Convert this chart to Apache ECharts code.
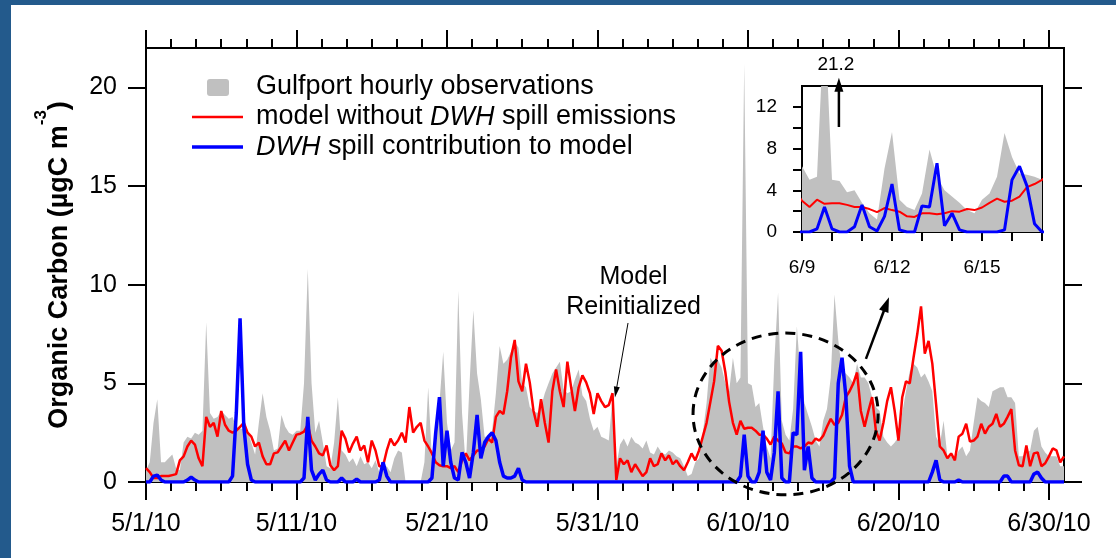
<!DOCTYPE html>
<html>
<head>
<meta charset="utf-8">
<script src="https://cdn.jsdelivr.net/npm/echarts@6/dist/echarts.min.js"></script>
<style>
  html, body { margin: 0; padding: 0; background: #fff; }
  #chart { width: 1116px; height: 558px; }
</style>
</head>
<body>
<div id="chart"></div>
<script>
// Organic carbon at Gulfport, 1 May – 1 July 2010 (µgC m-3), one value every 6 h.
const startYear = 2010, startMonth = 4, startDay = 1;   // 1 May 2010
const stepDays = 0.25;

// Gulfport observations
const observed = [
  0.6,1.0,3.0,4.2, 1.0,1.0,1.2,1.4,
  0.7,0.6,2.0,2.3, 2.2,2.5,2.4,2.6,
  8.1,3.5,3.2,3.3, 3.6,3.4,3.2,3.3,
  2.8,2.7,2.7,2.6, 2.0,1.4,3.0,4.5,
  3.3,2.6,1.6,1.7, 3.4,2.8,2.5,2.4,
  2.6,2.6,5.0,10.8, 5.0,2.5,3.1,2.0,
  0.8,0.7,2.0,4.3, 1.6,1.4,1.0,1.2,
  0.8,1.3,0.9,1.0, 0.7,1.1,0.5,0.6,
  0.8,0.5,1.2,1.6, 1.5,0,0,0,
  0,0,1.0,4.8, 1.2,2.5,4.0,6.6,
  3.0,1.6,2.0,9.7, 3.5,0.8,5.0,8.7,
  5.5,4.2,2.3,2.3, 2.6,4.5,6.9,6.0,
  6.2,6.6,7.1,6.8, 5.0,4.8,3.8,3.6,
  3.5,3.8,4.5,5.0, 5.5,5.8,6.1,4.7,
  4.5,4.6,5.2,5.7, 4.4,4.1,3.2,2.6,
  2.8,2.3,2.2,2.1, 4.3,0.8,1.9,2.2,
  1.8,2.3,2.0,1.9, 1.7,2.1,1.5,1.4,
  1.8,1.5,1.4,1.6, 1.5,1.3,1.2,0.8,
  0.3,0.4,1.0,1.2, 2.5,4.0,6.3,6.0,
  6.2,5.8,5.0,4.6, 6.3,5.0,5.3,21.2,
  5.0,4.9,3.8,4.0, 2.8,1.8,1.2,6.1,
  9.6,3.1,2.4,2.1, 3.7,7.9,5.3,4.0,
  3.4,2.8,2.1,1.8, 3.1,3.7,5.3,9.5,
  7.2,5.6,5.5,5.3, 5.0,6.0,5.3,5.3,
  5.0,4.3,3.8,3.6, 2.3,2.0,1.8,2.0,
  2.3,3.5,4.6,5.6, 6.0,5.8,5.3,5.5,
  5.1,4.6,2.3,1.9, 3.1,1.3,1.3,1.1,
  1.6,1.8,1.3,1.6, 3.0,4.3,4.1,4.0,
  3.8,4.6,4.7,4.8, 4.8,4.3,4.3,4.0,
  1.3,1.3,1.5,1.6, 2.6,2.8,1.8,1.5,
  1.3,1.3,1.3,0.8, 0.8
];

// Model run without DWH spill emissions
const modelNoSpill = [
  0.7,0.5,0.2,0.2, 0.3,0.3,0.3,0.35,
  0.4,1.1,1.3,1.8, 2.1,1.9,1.2,0.8,
  3.3,2.8,3.0,2.3, 3.6,2.9,2.6,2.5,
  2.6,2.8,3.0,2.5, 2.3,1.8,2.0,1.3,
  0.9,0.9,1.45,1.5, 1.8,2.1,1.6,2.0,
  2.4,2.45,2.55,2.9, 2.1,1.8,1.45,1.35,
  1.85,0.85,0.6,0.8, 2.6,2.2,1.5,1.95,
  2.3,1.6,1.85,1.0, 2.1,1.6,0.8,0.8,
  1.6,2.2,1.85,2.1, 2.5,2.0,3.8,2.5,
  2.8,3.0,2.1,1.8, 1.45,1.0,0.85,0.8,
  0.8,0.7,0.8,0.5, 1.1,1.45,1.1,1.35,
  1.6,1.6,1.8,2.2, 2.0,3.3,3.6,3.45,
  4.6,6.3,7.2,5.1, 4.6,6.0,5.05,3.6,
  2.8,4.2,3.0,2.0, 4.6,5.7,4.6,3.8,
  6.1,4.8,3.6,4.8, 5.4,5.05,4.5,3.45,
  4.5,4.1,3.8,3.9, 4.5,0.1,1.2,0.9,
  1.1,0.5,0.9,0.6, 0.3,0.5,1.2,0.8,
  0.9,1.45,1.1,1.35, 0.9,1.1,0.8,0.6,
  1.0,1.45,1.1,1.6, 2.3,3.0,4.05,5.1,
  6.9,6.65,5.55,4.05, 3.0,2.4,3.1,2.7,
  2.75,2.75,2.6,2.4, 2.4,2.2,1.9,2.3,
  2.1,1.95,1.5,1.45, 1.8,1.8,1.7,1.8,
  2.0,1.95,2.2,2.1, 2.35,2.8,3.2,2.9,
  3.0,3.4,4.3,4.6, 5.0,5.55,3.6,2.8,
  3.6,4.3,2.6,2.1, 3.0,4.1,4.8,3.6,
  2.1,4.3,5.1,5.0, 6.3,7.5,8.9,6.5,
  7.15,6.0,3.95,1.8, 1.6,1.2,1.45,1.1,
  2.3,2.45,2.95,2.05, 2.1,2.3,2.95,2.45,
  2.8,2.95,3.45,2.8, 2.95,3.3,3.7,1.6,
  0.85,0.8,1.85,0.8, 1.45,1.5,0.8,0.95,
  1.3,1.7,1.6,1.0, 1.3
];

// DWH spill contribution to the model
const spillContribution = [
  0,0,0.3,0.35, 0.1,0,0,0,
  0,0,0,0.1, 0.25,0.1,0,0,
  0,0,0,0, 0,0,0,0.3,
  3.5,8.3,2.8,0.9, 0.1,0,0,0,
  0,0,0,0, 0,0,0,0,
  0,0,0.2,3.3, 0.6,0.1,0.4,0.6,
  0.1,0,0,0, 0.2,0,0,0,
  0.15,0,0,0, 0,0,0.1,1.0,
  0.3,0,0,0, 0,0,0,0,
  0,0,0,0, 0.2,2.5,4.3,0.8,
  2.6,1.0,0.2,0.1, 1.5,1.0,0.2,1.5,
  3.4,1.2,2.0,2.3, 2.5,2.1,1.0,0.3,
  0.2,0.2,0.3,0.7, 0.1,0,0,0,
  0,0,0,0, 0,0,0,0,
  0,0,0,0, 0,0,0,0,
  0,0,0,0, 0,0,0,0,
  0,0,0,0, 0,0,0,0,
  0,0,0,0, 0,0,0,0,
  0,0,0,0, 0,0,0,0,
  0,0,0,0, 0,0,0.3,2.4,
  0.3,0,0,0.5, 2.6,0.5,0.1,1.5,
  4.6,0.2,0,0, 2.5,2.4,6.6,0.6,
  1.8,0.2,0,0, 0,0,0,0.2,
  5.0,6.3,4.4,0.8, 0,0,0,0,
  0,0,0,0, 0,0,0,0,
  0,0,0,0, 0,0,0,0,
  0,0.5,1.1,0.1, 0,0,0,0,
  0.1,0,0,0, 0,0,0,0,
  0,0,0,0, 0.3,0.3,0,0,
  0,0,0,0, 0.4,0.5,0.2,0,
  0,0,0,0, 0
];

// Axis ticks (days since 1 May 2010)
const dateTicks = [0, 10, 20, 30, 40, 50, 60];
const dateMinorStep = 10 / 6;
const valueTicks = [0, 5, 10, 15, 20];
const insetDateTicks = [39, 42, 45];
const insetDayTicks = [39, 40, 41, 42, 43, 44, 45, 46, 47];
const insetValueLabels = [0, 4, 8, 12];
const insetValueTicks = [0, 2, 4, 6, 8, 10, 12];

const FONT = '"Liberation Sans", Arial, sans-serif';
const INK = '#000';

const dateMinorTicks = [];
for (let k = 0; k * dateMinorStep <= 60 + 1e-9; k++) dateMinorTicks.push(k * dateMinorStep);

const toPairs = arr => arr.map((v, i) => [i * stepDays, v]);
const dayDate = d => new Date(startYear, startMonth, startDay + Math.round(d));
const fmtLong = d => { const t = dayDate(d); return (t.getMonth() + 1) + '/' + t.getDate() + '/10'; };
const fmtShort = d => { const t = dayDate(d); return (t.getMonth() + 1) + '/' + t.getDate(); };

function tickAxis(opts) {
  return Object.assign({
    type: 'value', min: 0, max: 61,
    axisLine: { show: false, onZero: false },
    splitLine: { show: false },
    axisLabel: { show: false },
    axisTick: { show: true, lineStyle: { color: INK, width: 2 } }
  }, opts);
}

function seriesSet(xi, yi, inset) {
  const common = { type: 'line', xAxisIndex: xi, yAxisIndex: yi, symbol: 'none', showSymbol: false, silent: true, clip: true };
  return [
    Object.assign({}, common, {
      name: 'observed', data: toPairs(observed), z: 2,
      lineStyle: { width: 0, color: '#c0c0c0' },
      areaStyle: { color: '#c0c0c0', opacity: 1 }
    }),
    Object.assign({}, common, {
      name: 'model', data: toPairs(modelNoSpill), z: 3,
      lineStyle: { width: inset ? 2 : 2.5, color: '#ff0000' }
    }),
    Object.assign({}, common, {
      name: 'spill', data: toPairs(spillContribution), z: 4,
      lineStyle: { width: inset ? 3 : 3.5, color: '#0000ff' }
    })
  ];
}

const chart = echarts.init(document.getElementById('chart'), null, { renderer: 'canvas' });

const option = {
  animation: false,
  backgroundColor: '#fff',
  textStyle: { fontFamily: FONT, color: INK },
  grid: [
    { left: 146, right: 52, top: 48, bottom: 76, containLabel: false, outerBoundsMode: 'none',
      show: true, borderColor: INK, borderWidth: 2, backgroundColor: 'transparent' },
    { left: 802, right: 74, top: 86, bottom: 326, containLabel: false, outerBoundsMode: 'none',
      show: true, borderColor: INK, borderWidth: 2, backgroundColor: 'transparent' }
  ],
  xAxis: [
    // main, bottom: long ticks + date labels
    tickAxis({
      gridIndex: 0, position: 'bottom',
      axisLine: { show: true, onZero: false, lineStyle: { color: INK, width: 2 } },
      axisTick: { show: true, length: 18, customValues: dateTicks, lineStyle: { color: INK, width: 2 } },
      axisLabel: { show: true, customValues: dateTicks, formatter: v => fmtLong(v),
        fontSize: 25, fontFamily: FONT, color: INK, margin: 30 }
    }),
    // main, bottom: short ticks
    tickAxis({ gridIndex: 0, position: 'bottom',
      axisTick: { show: true, length: 9, customValues: dateMinorTicks, lineStyle: { color: INK, width: 2 } } }),
    // main, top: long ticks
    tickAxis({ gridIndex: 0, position: 'top',
      axisTick: { show: true, length: 18, customValues: dateTicks, lineStyle: { color: INK, width: 2 } } }),
    // main, top: short ticks
    tickAxis({ gridIndex: 0, position: 'top',
      axisTick: { show: true, length: 9, customValues: dateMinorTicks, lineStyle: { color: INK, width: 2 } } }),
    // inset
    {
      type: 'value', gridIndex: 1, position: 'bottom', min: 39, max: 47,
      axisLine: { show: true, onZero: false, lineStyle: { color: INK, width: 2 } },
      splitLine: { show: false },
      axisTick: { show: true, length: 9, customValues: insetDayTicks, lineStyle: { color: INK, width: 2 } },
      axisLabel: { show: true, customValues: insetDateTicks, formatter: v => fmtShort(v),
        fontSize: 19, fontFamily: FONT, color: INK, margin: 26 }
    }
  ],
  yAxis: [
    {
      type: 'value', gridIndex: 0, position: 'left', min: 0, max: 22,
      axisLine: { show: true, onZero: false, lineStyle: { color: INK, width: 2 } },
      splitLine: { show: false },
      axisTick: { show: true, length: 18, customValues: valueTicks, lineStyle: { color: INK, width: 2 } },
      axisLabel: { show: true, customValues: valueTicks, fontSize: 25, fontFamily: FONT, color: INK, margin: 29 },
      name: '{t|Organic Carbon (µgC m}{s|-3}{t|)}',
      nameLocation: 'middle',
      nameGap: 73,
      nameTextStyle: {
        fontFamily: FONT, fontWeight: 'bold', fontSize: 27, color: INK,
        rich: {
          t: { fontFamily: FONT, fontWeight: 'bold', fontSize: 27, color: INK, lineHeight: 40, verticalAlign: 'bottom' },
          s: { fontFamily: FONT, fontWeight: 'bold', fontSize: 17, color: INK, lineHeight: 22, verticalAlign: 'top' }
        }
      }
    },
    {
      type: 'value', gridIndex: 0, position: 'right', min: 0, max: 22,
      axisLine: { show: true, onZero: false, lineStyle: { color: INK, width: 2 } },
      splitLine: { show: false },
      axisTick: { show: true, length: 18, customValues: valueTicks, lineStyle: { color: INK, width: 2 } },
      axisLabel: { show: false }
    },
    {
      type: 'value', gridIndex: 1, position: 'left', min: 0, max: 14,
      axisLine: { show: true, onZero: false, lineStyle: { color: INK, width: 2 } },
      splitLine: { show: false },
      axisTick: { show: true, length: 9, customValues: insetValueTicks, lineStyle: { color: INK, width: 2 } },
      axisLabel: { show: true, customValues: insetValueLabels, fontSize: 19, fontFamily: FONT, color: INK, margin: 25 }
    }
  ],
  series: seriesSet(0, 0, false).concat(seriesSet(4, 2, true))
};

chart.setOption(option);

// Annotations placed in data coordinates
const mainPx = p => chart.convertToPixel({ xAxisIndex: 0, yAxisIndex: 0 }, p);
const insetPx = p => chart.convertToPixel({ xAxisIndex: 4, yAxisIndex: 2 }, p);

function arrow(p0, p1, lw, headLen, headW) {
  const dx = p1[0] - p0[0], dy = p1[1] - p0[1];
  const L = Math.hypot(dx, dy), ux = dx / L, uy = dy / L;
  const bx = p1[0] - ux * headLen, by = p1[1] - uy * headLen;
  return [
    { type: 'line', z: 100, shape: { x1: p0[0], y1: p0[1], x2: bx + ux * 1, y2: by + uy * 1 },
      style: { stroke: INK, lineWidth: lw } },
    { type: 'polygon', z: 100,
      shape: { points: [[p1[0], p1[1]], [bx - uy * headW / 2, by + ux * headW / 2], [bx + uy * headW / 2, by - ux * headW / 2]] },
      style: { fill: INK } }
  ];
}

// zoomed period outline
const ellipseCenter = mainPx([42.5, 3.45]);
const ellipseEdgeX = mainPx([42.5 + 6.15, 3.45]);
const ellipseEdgeY = mainPx([42.5, 3.45 + 4.1]);

const graphics = [];

// frame strips
graphics.push({ type: 'rect', z: 200, shape: { x: 0, y: 0, width: 11, height: 558 }, style: { fill: '#235a8c' } });
graphics.push({ type: 'rect', z: 200, shape: { x: 0, y: 0, width: 1116, height: 5 }, style: { fill: '#235a8c' } });

graphics.push({
  type: 'ellipse', z: 100,
  shape: { cx: ellipseCenter[0], cy: ellipseCenter[1],
           rx: ellipseEdgeX[0] - ellipseCenter[0], ry: ellipseCenter[1] - ellipseEdgeY[1] },
  style: { fill: null, stroke: INK, lineWidth: 3, lineDash: [10, 7] }
});
arrow(mainPx([47.84, 6.24]), mainPx([49.37, 9.37]), 2.5, 15, 10).forEach(g => graphics.push(g));

// model reinitialization note
arrow(mainPx([32.03, 8.06]), mainPx([31.16, 4.28]), 1, 11, 6).forEach(g => graphics.push(g));
const notePos = mainPx([32.4, 9.62]);
graphics.push({
  type: 'text', z: 100, x: notePos[0], y: notePos[1],
  style: { text: 'Model\nReinitialized', fontFamily: FONT, fontSize: 25, lineHeight: 30,
           fill: INK, align: 'center', verticalAlign: 'middle' }
});

// off-scale observation in the inset
arrow(insetPx([40.23, 10.07]), insetPx([40.23, 14.8]), 2.5, 14, 9).forEach(g => graphics.push(g));
const peakLabel = insetPx([40.13, 16.0]);
graphics.push({
  type: 'text', z: 100, x: peakLabel[0], y: peakLabel[1],
  style: { text: '21.2', fontFamily: FONT, fontSize: 19, fill: INK, align: 'center', verticalAlign: 'middle' }
});

// legend
const legendX = 192, legendTextX = 256;
graphics.push({ type: 'rect', z: 100, shape: { x: 207, y: 79, width: 22, height: 17, r: 3 }, style: { fill: '#c0c0c0' } });
graphics.push({ type: 'line', z: 100, shape: { x1: legendX, y1: 117, x2: 243, y2: 117 }, style: { stroke: '#ff0000', lineWidth: 2.5 } });
graphics.push({ type: 'line', z: 100, shape: { x1: legendX, y1: 147, x2: 243, y2: 147 }, style: { stroke: '#0000ff', lineWidth: 3.5 } });
const legendRich = {
  n: { fontFamily: FONT, fontSize: 27, fill: INK },
  i: { fontFamily: FONT, fontSize: 27, fontStyle: 'italic', fill: INK }
};
[
  ['{n|Gulfport hourly observations}', 87],
  ['{n|model without }{i|DWH}{n| spill emissions}', 117],
  ['{i|DWH}{n| spill contribution to model}', 147]
].forEach(([txt, y]) => graphics.push({
  type: 'text', z: 100, x: legendTextX, y: y,
  style: { text: txt, rich: legendRich, fontFamily: FONT, fontSize: 27, fill: INK, align: 'left', verticalAlign: 'middle' }
}));

chart.setOption({ graphic: graphics });
</script>
</body>
</html>
